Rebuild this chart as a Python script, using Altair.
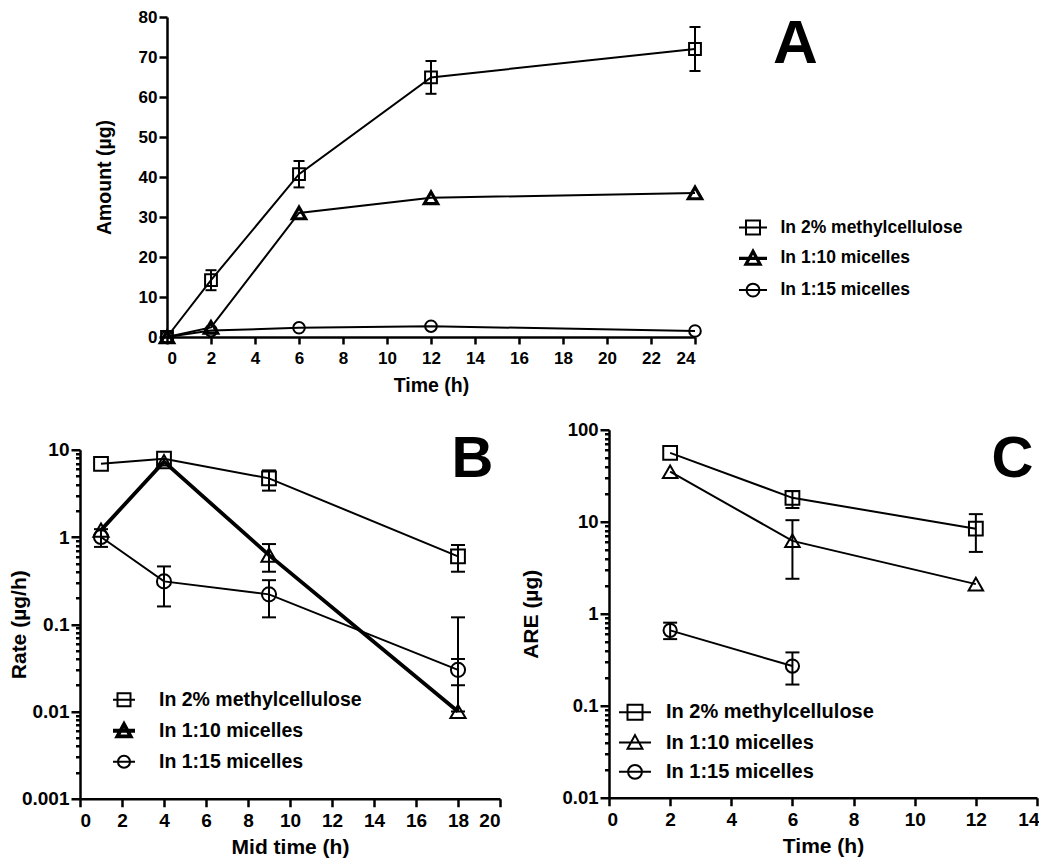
import altair as alt
import pandas as pd

FONT = "Liberation Sans"
SERIES = ["In 2% methylcellulose", "In 1:10 micelles", "In 1:15 micelles"]

# ---------------- Panel A : amount (µg) vs time (h) ----------------
time_a = [0, 2, 6, 12, 24]
mc_a = [0, 14.2, 40.7, 64.9, 72.0]
mc_a_err = [0, 2.5, 3.3, 4.1, 5.5]
m10_a = [0, 2.4, 31.0, 34.8, 36.0]
m15_a = [0, 1.6, 2.3, 2.7, 1.5]

# ---------------- Panel B : rate (µg/h) vs mid time (h) ----------------
time_b = [1, 4, 9, 18]
mc_b = [6.9, 7.9, 4.7, 0.60]
mc_b_lo = [None, None, 3.4, 0.40]
mc_b_hi = [None, None, 5.8, 0.81]
m10_b = [1.2, 7.3, 0.62, 0.010]
m10_b_lo = [None, None, 0.40, 0.010]
m10_b_hi = [None, None, 0.83, 0.040]
m15_b = [1.0, 0.31, 0.22, 0.030]
m15_b_lo = [0.77, 0.16, 0.12, 0.020]
m15_b_hi = [1.23, 0.46, 0.32, 0.12]

# ---------------- Panel C : ARE (µg) vs time (h) ----------------
time_c = [2, 6, 12]
mc_c = [56, 18.2, 8.4]
mc_c_lo = [None, 14.1, 4.7]
mc_c_hi = [None, 21.5, 12.1]
m10_c = [35, 6.2, 2.1]
m10_c_lo = [None, 2.4, None]
m10_c_hi = [None, 10.4, None]
time_c15 = [2, 6]
m15_c = [0.66, 0.27]
m15_c_lo = [0.53, 0.17]
m15_c_hi = [0.80, 0.38]


def frame(t, v, lo=None, hi=None):
    n = len(t)
    return pd.DataFrame({
        "t": t, "v": v,
        "lo": lo if lo is not None else [None] * n,
        "hi": hi if hi is not None else [None] * n,
    })


def pm(v, e):
    lo = [a - b if b > 0 else None for a, b in zip(v, e)]
    hi = [a + b if b > 0 else None for a, b in zip(v, e)]
    return lo, hi


mc_a_lo, mc_a_hi = pm(mc_a, mc_a_err)

COMMON_AXIS = dict(domainColor="black", domainWidth=2.5, tickColor="black", tickWidth=2.5,
                   labelColor="black", titleColor="black", labelFont=FONT, titleFont=FONT,
                   labelFontWeight="bold", titleFontWeight="bold", grid=False,
                   labelOverlap=False)

MAJOR = "abs(log(datum.value)/LN10 - round(log(datum.value)/LN10)) < 0.001"


def log_values(e0, e1):
    vals = []
    for e in range(e0, e1):
        for m in range(1, 10):
            vals.append(round(m * 10 ** e, 10))
    vals.append(round(10 ** e1, 10))
    return vals


def legend_paths(sq, tw, th, cr, ext=1.0):
    square = f"M{-ext},0H{ext}M{-sq},{-sq}H{sq}V{sq}H{-sq}Z"
    tri = f"M{-ext},0H{ext}M0,{-th}L{tw},{th * 0.85}L{-tw},{th * 0.85}Z"
    circ = (f"M{-ext},0H{ext}M{cr},0A{cr},{cr} 0 1,1 {-cr},0"
            f"A{cr},{cr} 0 1,1 {cr},0Z")
    return [square, tri, circ]


def build_panel(frames, xscale, yscale, xaxis, yaxis, styles, leg, letter, width, height):
    X = alt.X("t:Q", scale=xscale, axis=xaxis)

    def Y(f):
        return alt.Y(f + ":Q", scale=yscale, axis=yaxis)

    layers = []
    for df, st in zip(frames, styles):
        layers.append(alt.Chart(df[["t", "v"]]).mark_line(color="black", strokeWidth=st["lw"])
                      .encode(x=X, y=Y("v")))
    for df, st in zip(frames, styles):
        e = df.dropna(subset=["lo", "hi"])
        if len(e):
            layers.append(alt.Chart(e).mark_rule(color="black", strokeWidth=2)
                          .encode(x=X, y=Y("lo"), y2=alt.Y2("hi:Q")))
            for f in ("lo", "hi"):
                layers.append(alt.Chart(e).mark_tick(orient="horizontal", size=st["cap"], thickness=2,
                                                     color="black", opacity=1)
                              .encode(x=X, y=Y(f)))
    for df, st in zip(frames, styles):
        layers.append(alt.Chart(df[["t", "v"]]).mark_point(shape=st["shape"], size=st["size"], filled=False,
                                                           color="black", strokeWidth=st["sw"], opacity=1)
                      .encode(x=X, y=Y("v")))
    # legend (drawn by the library from the series scale)
    L = alt.Legend(title=None, orient="none", legendX=leg["x"], legendY=leg["y"], direction="vertical",
                   padding=0, labelFont=FONT, labelFontSize=leg["fs"], labelFontWeight="bold",
                   labelColor="black", labelOffset=leg["off"], rowPadding=leg["rp"],
                   symbolSize=leg["size"], symbolStrokeColor="black", symbolFillColor="transparent",
                   labelLimit=400)
    layers.append(alt.Chart(pd.DataFrame({"s": SERIES})).transform_filter("false")
                  .mark_point(size=leg["size"], filled=False, color="black", opacity=1)
                  .encode(shape=alt.Shape("s:N", scale=alt.Scale(domain=SERIES, range=leg["paths"]), legend=L),
                          strokeWidth=alt.StrokeWidth("s:N", scale=alt.Scale(type="ordinal", domain=SERIES,
                                                                             range=leg["widths"]),
                                                      legend=L)))
    layers.append(alt.Chart(pd.DataFrame({"lab": [letter["text"]]}))
                  .mark_text(font=FONT, fontSize=letter["fs"], fontWeight="bold", color="black",
                             align="center", baseline="top")
                  .encode(x=alt.value(letter["x"]), y=alt.value(letter["y"]), text="lab:N"))
    return alt.layer(*layers).properties(width=width, height=height)


# ---------- Panel A ----------
a_frames = [frame(time_a, mc_a, mc_a_lo, mc_a_hi), frame(time_a, m10_a), frame(time_a, m15_a)]
a_styles = [dict(lw=2, shape="square", size=140, sw=2, cap=11),
            dict(lw=2, shape="triangle-up", size=175, sw=3.2, cap=11),
            dict(lw=2, shape="circle", size=135, sw=2, cap=11)]
a_x = alt.Axis(title="Time (h)", values=list(range(0, 25, 2)), tickSize=7, labelPadding=6,
               labelFontSize=17, titleFontSize=19.5, titlePadding=10.5, **COMMON_AXIS)
a_y = alt.Axis(title="Amount (µg)", values=list(range(0, 81, 10)), tickSize=8, labelPadding=2,
               labelFontSize=17, titleFontSize=19.5, titlePadding=24, **COMMON_AXIS)
A = build_panel(a_frames, alt.Scale(domain=[0, 24], nice=False, zero=False),
                alt.Scale(domain=[0, 80], nice=False, zero=False), a_x, a_y, a_styles,
                dict(x=570, y=195.5, fs=17.5, off=11.5, rp=3.8, size=784,
                     paths=legend_paths(0.5, 0.5, 0.5, 0.46), widths=[2, 3.2, 2]),
                dict(text="A", fs=62, x=628.5, y=-3), 528, 320)

# ---------- Panel B ----------
b_frames = [frame(time_b, mc_b, mc_b_lo, mc_b_hi), frame(time_b, m10_b, m10_b_lo, m10_b_hi),
            frame(time_b, m15_b, m15_b_lo, m15_b_hi)]
b_styles = [dict(lw=2, shape="square", size=190, sw=2, cap=14),
            dict(lw=3.8, shape="triangle-up", size=230, sw=2, cap=14),
            dict(lw=2, shape="circle", size=200, sw=2, cap=14)]
b_x = alt.Axis(title="Mid time (h)", values=list(range(0, 21, 2)), tickSize=8, labelPadding=5,
               labelFontSize=19, titleFontSize=21, titlePadding=5.5, **COMMON_AXIS)
b_y = alt.Axis(title="Rate (µg/h)", values=log_values(-3, 1), format="~g",
               labelExpr=f"{MAJOR} ? datum.label : ''",
               tickSize={"condition": {"test": MAJOR, "value": 9}, "value": 4.5},
               labelPadding=2, labelFontSize=19, titleFontSize=21, titlePadding=-8.5, **COMMON_AXIS)
B = build_panel(b_frames, alt.Scale(domain=[0, 20], nice=False, zero=False),
                alt.Scale(type="log", domain=[0.001, 10], nice=False), b_x, b_y, b_styles,
                dict(x=31, y=238, fs=19.5, off=22, rp=5, size=484,
                     paths=legend_paths(0.59, 0.6, 0.6, 0.55), widths=[2, 3.8, 2]),
                dict(text="B", fs=58, x=392.5, y=-18.8), 420, 349)

# ---------- Panel C ----------
c_frames = [frame(time_c, mc_c, mc_c_lo, mc_c_hi), frame(time_c, m10_c, m10_c_lo, m10_c_hi),
            frame(time_c15, m15_c, m15_c_lo, m15_c_hi)]
c_styles = [dict(lw=2, shape="square", size=190, sw=2, cap=14),
            dict(lw=2, shape="triangle-up", size=210, sw=2, cap=14),
            dict(lw=2, shape="circle", size=175, sw=2, cap=14)]
c_x = alt.Axis(title="Time (h)", values=list(range(0, 15, 2)), tickSize=8, labelPadding=5,
               labelFontSize=19, titleFontSize=21, titlePadding=5.5, labelFlush=True,
               labelFlushOffset=2, **COMMON_AXIS)
c_y = alt.Axis(title="ARE (µg)", values=log_values(-2, 2), format="~g",
               labelExpr=f"{MAJOR} ? datum.label : ''",
               tickSize={"condition": {"test": MAJOR, "value": 9}, "value": 4.5},
               labelPadding=2, labelFontSize=18.5, titleFontSize=21, titlePadding=20, **COMMON_AXIS)
C = build_panel(c_frames, alt.Scale(domain=[0, 14], nice=False, zero=False),
                alt.Scale(type="log", domain=[0.01, 100], nice=False), c_x, c_y, c_styles,
                dict(x=13, y=269.5, fs=20, off=18, rp=5.3, size=576,
                     paths=legend_paths(0.625, 0.62, 0.62, 0.58, ext=1.333), widths=[2, 2, 2]),
                dict(text="C", fs=58, x=403.5, y=1.2), 428, 368)


def spacer(w, h):
    return alt.Chart(pd.DataFrame({"z": [0]})).mark_point(opacity=0, size=1).properties(width=w, height=h)


indep = dict(shape="independent", strokeWidth="independent")
top_row = alt.hconcat(spacer(87, 1), A, spacing=0, bounds="flush").resolve_scale(**indep)
b_col = alt.vconcat(spacer(1, 20), B, spacing=0, bounds="flush").resolve_scale(**indep)
bottom_row = alt.hconcat(b_col, C, spacing=18).resolve_scale(**indep)
chart = (alt.vconcat(top_row, bottom_row, spacing=25.75)
         .resolve_scale(**indep)
         .properties(padding=0, background="white")
         .configure_view(stroke=None))

chart.save("out.html", embed_options={"renderer": "svg", "actions": False})
